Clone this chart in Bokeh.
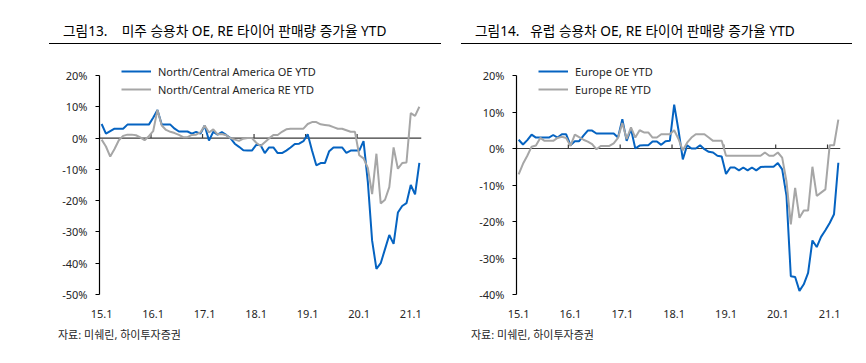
from bokeh.plotting import figure
from bokeh.models import Range1d, FixedTicker, LinearAxis, Legend, LegendItem, Div, Span
from bokeh.layouts import column, row
from bokeh.embed import file_html
from bokeh.resources import INLINE

# ---------------- data (monthly, Jan 2015 .. Mar 2021, YTD growth in %) ----------------
year_labels = ["15.1", "16.1", "17.1", "18.1", "19.1", "20.1", "21.1"]
months_per_label = 12

na_oe = [4.5, 1.4, 2.2, 3, 3, 3, 4.3, 4.3, 4.3, 4.3, 4.3, 4.3,
         6.5, 9, 4.3, 4.3, 4.3, 3, 2.1, 2.1, 2.1, 1.4, 2, 1.4,
         4, -0.8, 2, 1.1, 1.9, 1, 0, -1.8, -2.8, -3.9, -4, -4,
         -2.2, -2.2, -4.8, -3, -3, -4.8, -4.8, -4, -3, -1.9, -1.8, -1,
         1.2, -4, -8.7, -8, -8, -4.2, -3, -3, -3, -4.7, -4, -4,
         -4, -1, -14, -32.8, -41.8, -40, -35.5, -31, -33.8, -23.8, -21.7, -20.8,
         -15, -18, -7.9]
na_re = [-0.5, -2.7, -5.9, -3.5, -0.7, 0.7, 1.1, 1.1, 0.9, 0.2, -0.7, 0.6,
         2.2, 9, 4, 2.6, 2, 1.6, 1, 0.3, 0.3, 1, 1.1, 1.8,
         4, 1.8, 2.8, 1.2, 1.3, 0.9, 0, -0.5, -0.9, -0.2, 0, 0,
         -1.5, -2.5, -1.3, -0.1, 1, 1, 2, 2.8, 3, 3, 3, 3,
         4.5, 5.1, 5.1, 4.4, 4.2, 4, 3.5, 3, 3, 2.5, 2, 2,
         -5.5, -6.5, -9.5, -17.9, -5, -20.9, -19.7, -15.7, -3, -9.8, -8, -7.8,
         8, 7.1, 10]
eu_oe = [2.4, 1.1, 2.3, 3.8, 3, 3, 3, 3, 3.7, 3, 3.9, 3.9,
         0.9, 2, 2, 3.5, 4.9, 4.9, 4.1, 4.1, 4.1, 4.1, 4.1, 3,
         8, 2.1, 5.3, 0, 0.8, 0.9, 0.9, 1.9, 1.9, 1, 2, 2.1,
         12, 5, -3, 0.9, 0, 0, 0.9, -0.2, -0.9, -1.1, -2, -2.2,
         -7, -5.2, -5.2, -6, -5.2, -6, -5.2, -6, -5.1, -5, -5, -5,
         -4, -5.7, -13, -35, -35.2, -39, -37.2, -34.1, -25.2, -27, -24.2, -22.4,
         -20.4, -18, -3.9]
eu_re = [-7.1, -4.2, -2, 0.5, 0.8, 2.9, 2.1, 2.1, 2.1, 2.9, 3.2, 2.9,
         0.7, 3.8, 3.1, 2.4, 1.9, 1.2, -0.2, 0.7, 0.7, 0.7, 1.4, 2.9,
         7, 2.6, 5.8, 3, 5, 4.4, 4.4, 3, 3, 3.9, 3.9, 3.9,
         5, 2.6, -0.5, 1.6, 3, 3.9, 3.9, 3.9, 3, 2.1, 2.1, 2.1,
         -2, -2, -2, -2, -2, -2, -2, -2, -2, -1.1, -2, -2,
         -1.1, -2.5, -9, -20.8, -10.8, -19, -17, -17, -5, -13, -12.1, -11.2,
         0.9, 0.9, 7.9]

na_yticks = [-50, -40, -30, -20, -10, 0, 10, 20]
eu_yticks = [-40, -30, -20, -10, 0, 10, 20]

titles = ["그림13.&nbsp;&nbsp;&nbsp; 미주 승용차 OE, RE 타이어 판매량 증가율 YTD",
          "그림14.&nbsp;&nbsp; 유럽 승용차 OE, RE 타이어 판매량 증가율 YTD"]
source = "자료: 미쉐린, 하이투자증권"

BLUE = "#0563C1"
GRAY = "#A6A6A6"
TXT = "#262626"
LATIN = "Noto Sans"

FRAME_H = 236      # pixel height of the plotting frame
AXIS_PX = 219      # pixel length of the y axis (from lowest tick to highest tick)
TICK_PX = 4        # length of the small tick marks on the zero line


def make_panel(oe, re_, oe_name, re_name, yticks, width, bl, br):
    n = len(oe)
    xs = [i + 0.5 for i in range(n)]
    ylo, yhi = min(yticks), max(yticks)
    units_per_px = (yhi - ylo) / AXIS_PX
    ytop = ylo + FRAME_H * units_per_px
    p = figure(width=width, height=275, output_backend="svg", toolbar_location=None,
               x_range=Range1d(0, n), y_range=Range1d(ylo, ytop),
               x_axis_type=None, y_axis_type=None,
               min_border_left=bl, min_border_right=br,
               min_border_top=10, min_border_bottom=29)
    p.outline_line_color = None
    p.background_fill_color = "white"
    p.border_fill_color = "white"

    yax = LinearAxis(ticker=FixedTicker(ticks=yticks), bounds=(ylo, yhi),
                     major_label_overrides={t: f"{t}%" for t in yticks},
                     axis_line_color="#000000", axis_line_width=1.2,
                     major_tick_line_color="#000000", major_tick_in=0, major_tick_out=4,
                     minor_tick_line_color=None,
                     major_label_text_font=LATIN, major_label_text_font_size="11px",
                     major_label_text_color=TXT, major_label_standoff=8)
    p.add_layout(yax, "left")

    label_ticks = [k * months_per_label + 0.5 for k in range(len(year_labels))]
    xlab = LinearAxis(ticker=FixedTicker(ticks=label_ticks),
                      major_label_overrides={t: lab for t, lab in zip(label_ticks, year_labels)},
                      axis_line_color=None, major_tick_line_color=None,
                      minor_tick_line_color=None,
                      major_label_text_font=LATIN, major_label_text_font_size="11px",
                      major_label_text_color=TXT, major_label_standoff=9)
    p.add_layout(xlab, "below")

    # zero line with small upward tick marks at the year boundaries
    p.add_layout(Span(location=0, dimension="width", line_color="#3a3a3a",
                      line_width=1.2, level="underlay"))
    boundary_ticks = [k * months_per_label for k in range(len(year_labels))]
    p.segment(x0=boundary_ticks, y0=[0] * len(boundary_ticks),
              x1=boundary_ticks, y1=[TICK_PX * units_per_px] * len(boundary_ticks),
              line_color="#3a3a3a", line_width=1.2, level="underlay")

    r1 = p.line(xs, oe, line_color=BLUE, line_width=2)
    r2 = p.line(xs, re_, line_color=GRAY, line_width=2)

    leg = Legend(items=[LegendItem(label=oe_name, renderers=[r1]),
                        LegendItem(label=re_name, renderers=[r2])],
                 location=(22, 196), orientation="vertical",
                 border_line_color=None, background_fill_alpha=0,
                 label_text_font=LATIN, label_text_font_size="11px", label_text_color=TXT,
                 glyph_width=30, glyph_height=18, label_height=18, label_standoff=7,
                 spacing=0, padding=0, margin=0)
    p.add_layout(leg, "center")
    return p


p1 = make_panel(na_oe, na_re, "North/Central America OE YTD", "North/Central America RE YTD",
                na_yticks, 425, 91, 12)
p2 = make_panel(eu_oe, eu_re, "Europe OE YTD", "Europe RE YTD",
                eu_yticks, 425, 83, 18)

font_css = "font-family:'Noto Sans','Noto Sans CJK KR',sans-serif;"
header_html = (
    f'<div style="position:relative;width:850px;height:40px;{font_css}color:#000;">'
    f'<div style="position:absolute;left:55px;top:14px;font-size:13.7px;line-height:18px;white-space:nowrap;">{titles[0]}</div>'
    f'<div style="position:absolute;left:41px;top:35px;width:392px;height:0;border-top:1.3px solid #000;"></div>'
    f'<div style="position:absolute;left:467px;top:14px;font-size:13.7px;line-height:18px;white-space:nowrap;">{titles[1]}</div>'
    f'<div style="position:absolute;left:453px;top:35px;width:391px;height:0;border-top:1.3px solid #000;"></div>'
    '</div>')
footer_html = (
    f'<div style="position:relative;width:850px;height:32px;{font_css}color:{TXT};font-size:11px;line-height:16px;">'
    f'<div style="position:absolute;left:50px;top:4px;white-space:nowrap;">{source}</div>'
    f'<div style="position:absolute;left:463px;top:4px;white-space:nowrap;">{source}</div>'
    '</div>')

header = Div(text=header_html, width=850, height=40, margin=0)
footer = Div(text=footer_html, width=850, height=32, margin=0)

layout = column(header, row(p1, p2, spacing=0), footer, spacing=0, margin=(8, 0, 0, 8))

open("out.html", "w").write(file_html(layout, INLINE))
